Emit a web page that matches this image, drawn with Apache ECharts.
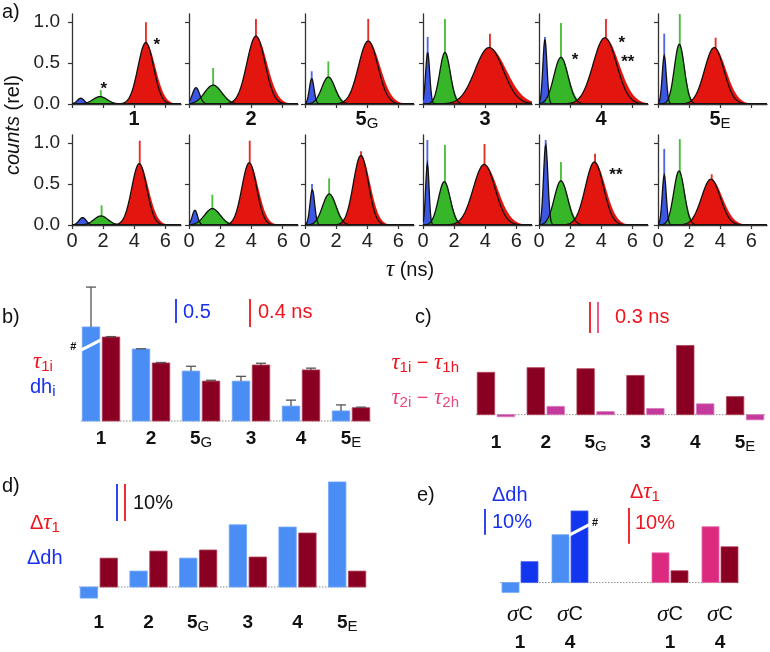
<!DOCTYPE html>
<html><head><meta charset="utf-8">
<script src="https://cdn.jsdelivr.net/npm/echarts@6/dist/echarts.min.js"></script>
<style>html,body{margin:0;padding:0;background:#fff}#c{width:770px;height:652px}</style>
</head><body><div id="c"></div>
<script>
// ===== Panel a: lifetime histograms (fit parameters) =====
const samples = ['1','2','5G','3','4','5E'];
const tauTicks = [0,2,4,6];
const countTicks = [0,0.5,1.0];
// top row: centre (ns), height (rel), width (ns)
const blueCenterTop  = [0.56,0.45,0.43,0.30,0.38,0.40];
const blueHeightTop  = [0.07,0.20,0.31,0.63,0.79,0.59];
const blueSigmaTop   = [0.22,0.23,0.15,0.13,0.13,0.13];
const greenCenterTop = [1.80,1.55,1.50,1.41,1.41,1.37];
const greenHeightTop = [0.09,0.23,0.33,0.63,0.57,0.73];
const greenSigmaTop  = [0.45,0.55,0.42,0.34,0.45,0.32];
const redCenterTop   = [4.74,4.30,4.06,4.25,4.23,3.61];
const redHeightTop   = [0.75,0.83,0.77,0.69,0.81,0.69];
const redSigmaTop    = [0.50,0.58,0.62,0.90,0.75,0.62];
// bottom row
const blueCenterBot  = [0.68,0.38,0.47,0.28,0.43,0.40];
const blueHeightBot  = [0.09,0.18,0.43,0.75,0.98,0.61];
const blueSigmaBot   = [0.23,0.17,0.15,0.11,0.14,0.13];
const greenCenterBot = [1.86,1.50,1.56,1.37,1.41,1.35];
const greenHeightBot = [0.11,0.20,0.38,0.53,0.54,0.66];
const greenSigmaBot  = [0.45,0.50,0.43,0.38,0.43,0.34];
const redCenterBot   = [4.32,3.87,3.59,3.93,3.56,3.40];
const redHeightBot   = [0.75,0.76,0.85,0.74,0.77,0.56];
const redSigmaBot    = [0.48,0.47,0.48,0.70,0.58,0.60];
// single-bin spikes [tau, height] for blue, green, red
const spikesTop = [
  [null,[1.85,0.17],[4.75,1.00]],
  [null,[1.55,0.44],[4.30,1.04]],
  [[0.43,0.40],[1.50,0.52],[4.06,1.04]],
  [[0.30,0.82],[1.41,1.04],[4.30,0.86]],
  [[0.38,0.82],[1.41,0.99],[4.30,1.04]],
  [[0.40,0.86],[1.40,1.10],[3.70,0.81]]
];
const spikesBot = [
  [null,[1.90,0.24],[4.35,1.03]],
  [null,[1.50,0.37],[3.90,1.03]],
  [[0.45,0.50],[1.55,0.57],[3.60,0.90]],
  [[0.28,1.04],[1.41,0.98],[3.95,0.99]],
  [[0.43,1.04],[1.41,0.77],[3.60,0.87]],
  [[0.40,0.93],[1.40,1.05],[3.45,0.62]]
];
// asterisk annotations [panel, tau, counts, text]
const marks = [[0,2.05,0.18,'*'],[0,5.45,0.72,'*'],[4,2.31,0.54,'*'],[4,5.32,0.74,'*'],[4,5.70,0.51,'**'],[10,4.94,0.61,'**']];

// ===== Panel b =====
const barCats = ['1','2','5G','3','4','5E'];
const dhI      = [1.96,1.50,1.04,0.83,0.31,0.21];
const dhIErr   = [0.83,0.005,0.10,0.10,0.125,0.125];
const tau1I    = [1.20,0.83,0.57,0.80,0.73,0.19];
const tau1IErr = [0.006,0.006,0.012,0.025,0.025,0.008];
// ===== Panel c =====
const dTau1 = [0.41,0.455,0.445,0.38,0.67,0.175];
const dTau2 = [-0.02,0.08,0.03,0.06,0.105,-0.05];
// ===== Panel d (%) =====
const relDh   = [-3.0,4.3,7.8,16.8,16.2,28.4];
const relTau1 = [7.8,9.7,10.0,8.1,14.6,4.3];
// ===== Panel e (%) =====
const eCats = ['1','4','','1','4'];
const eDhLight = [-3.8,18.5];
const eDhDark  = [8.1,27.7];
const eTauPink = [8.3,15.6];
const eTauDark = [3.3,10.0];
// scale bars
const scaleB = [0.5,0.4], scaleC = 0.3, scaleD = 10, scaleE = [10,10];

// ===== drawing =====
const FONT = '"Liberation Sans", Arial, sans-serif';
const SERIF = '"Liberation Serif", "DejaVu Serif", serif';
const COMP = ['#3d57e4','#37b629','#e3160f'];
const TAIL = [1.0,1.1,1.22];
const COL = {lblue:'#4a8ef5', dred:'#8a0022', pinkC:'#c4399c', pinkE:'#dc2a80', dblue:'#1236ef',
  tblue:'#1a30f0', tred:'#f0141e', tpink:'#e9487f', axis:'#333'};
const histLefts = [72,189,305,423,539,658], histTops = [14,135], HW = 109, HH = 90;
const grid=[], xAxis=[], yAxis=[], series=[], graphic=[];

function fillRender(params, api){
  const c=api.value(0), h=api.value(1), s=api.value(2), k=api.value(3);
  const pts=[api.coord([0,0])];
  for(let i=0;i<=175;i++){const x=i*0.04; const ss=x>c?s*TAIL[k]:s; pts.push(api.coord([x,h*Math.exp(-(x-c)*(x-c)/(2*ss*ss))]));}
  pts.push(api.coord([7,0]));
  return {type:'polygon', shape:{points:pts}, style:{fill:COMP[k], opacity:1, blend:'multiply'}};
}
function lineRender(params, api){
  const c=api.value(0), h=api.value(1), s=api.value(2);
  const pts=[];
  for(let i=0;i<=175;i++){const x=i*0.04; pts.push(api.coord([x,h*Math.exp(-(x-c)*(x-c)/(2*s*s))]));}
  return {type:'polyline', shape:{points:pts}, style:{stroke:'#111', lineWidth:1.3, fill:null}};
}
function spikeRender(params, api){
  const x=api.value(0), h=api.value(1), k=api.value(2);
  const a=api.coord([x-0.06,h]), b=api.coord([x+0.06,0]);
  return {type:'rect', shape:{x:a[0], y:a[1], width:Math.max(1.8,b[0]-a[0]), height:b[1]-a[1]}, style:{fill:COMP[k], opacity:0.9}};
}
function markRender(params, api){
  const p=api.coord([api.value(0),api.value(1)]);
  return {type:'text', style:{text:api.value(2), x:p[0], y:p[1], fill:'#111', font:'bold 17px '+FONT, align:'center', verticalAlign:'middle'}};
}

for(let r=0;r<2;r++){
  const P = r===0 ? [blueCenterTop,blueHeightTop,blueSigmaTop,greenCenterTop,greenHeightTop,greenSigmaTop,redCenterTop,redHeightTop,redSigmaTop,spikesTop]
                  : [blueCenterBot,blueHeightBot,blueSigmaBot,greenCenterBot,greenHeightBot,greenSigmaBot,redCenterBot,redHeightBot,redSigmaBot,spikesBot];
  for(let c=0;c<6;c++){
    const idx=r*6+c;
    grid.push({left:histLefts[c], top:histTops[r], width:HW, height:HH});
    xAxis.push({type:'value', gridIndex:idx, min:0, max:7, splitLine:{show:false},
      axisLine:{show:true, lineStyle:{color:COL.axis, width:1.3}},
      axisTick:{show:true, length:4, customValues:tauTicks, lineStyle:{color:COL.axis, width:1.2}},
      axisLabel:{show:r===1, customValues:tauTicks, fontSize:20, color:'#222', fontFamily:FONT, margin:6}});
    yAxis.push({type:'value', gridIndex:idx, min:0, max:1.1, splitLine:{show:false},
      axisLine:{show:true, lineStyle:{color:COL.axis, width:1.3}},
      axisTick:{show:true, length:4, customValues:countTicks, lineStyle:{color:COL.axis, width:1.2}},
      axisLabel:{show:c===0, customValues:countTicks, formatter:v=>v.toFixed(1), fontSize:19, color:'#222', fontFamily:FONT, margin:12}});
    const fits=[[P[0][c],P[1][c],P[2][c],0],[P[3][c],P[4][c],P[5][c],1],[P[6][c],P[7][c],P[8][c],2]];
    series.push({type:'custom', xAxisIndex:idx, yAxisIndex:idx, data:fits, renderItem:fillRender, clip:true, z:2, silent:true});
    const sp=[]; P[9][c].forEach((s,k)=>{ if(s) sp.push([s[0],s[1],k]); });
    series.push({type:'custom', xAxisIndex:idx, yAxisIndex:idx, data:sp, renderItem:spikeRender, clip:true, z:3, silent:true});
    series.push({type:'custom', xAxisIndex:idx, yAxisIndex:idx, data:fits, renderItem:lineRender, clip:true, z:4, silent:true});
    const mk=marks.filter(m=>m[0]===idx).map(m=>[m[1],m[2],m[3]]);
    if(mk.length) series.push({type:'custom', xAxisIndex:idx, yAxisIndex:idx, data:mk, renderItem:markRender, clip:false, z:5, silent:true});
  }
}

// ---- bar panels ----
const catRich = {
  b:{fontFamily:FONT, fontWeight:'bold', fontSize:19, color:'#111', lineHeight:22, verticalAlign:'middle'},
  s:{fontFamily:FONT, fontSize:15, color:'#111', lineHeight:13, verticalAlign:'bottom'}
};
function catFmt(v){ return v.length>1 ? '{b|'+v[0]+'}{s|'+v.slice(1)+'}' : '{b|'+v+'}'; }
function catAxis(gi, data, margin, fmt, rich){
  return {type:'category', gridIndex:gi, data:data, axisLine:{show:false}, axisTick:{show:false}, splitLine:{show:false},
    axisLabel:{interval:0, margin:margin, formatter:fmt||catFmt, rich:rich||catRich}};
}
function hiddenY(gi,min,max){ return {type:'value', gridIndex:gi, min:min, max:max, show:false, splitLine:{show:false}}; }
function barRender(color, stroke, off, wf, opt){
  opt=opt||{};
  return function(params, api){
    const i=api.value(0), v=api.value(1), e=api.value(2);
    const base=api.coord([i,0]), top=api.coord([i,v]);
    const bw=api.size([1,0])[0];
    const w=wf*bw, x=base[0]+off*bw-w/2;
    const y=Math.min(base[1],top[1]), h=Math.abs(base[1]-top[1]);
    const ch=[{type:'rect', shape:{x:x,y:y,width:w,height:h}, style:{fill:color, stroke:stroke, lineWidth:0.8}}];
    if(e>0){
      const et=api.coord([i,v+e]), cx=x+w/2;
      ch.push({type:'line', shape:{x1:cx,y1:top[1],x2:cx,y2:et[1]}, style:{stroke:'#555', lineWidth:1.3}});
      ch.push({type:'line', shape:{x1:cx-5,y1:et[1],x2:cx+5,y2:et[1]}, style:{stroke:'#555', lineWidth:1.3}});
    }
    if(opt.breakIdx===params.dataIndex){
      const yc=api.coord([i,opt.breakAt])[1];
      ch.push({type:'polygon', shape:{points:[[x-2,yc+6],[x+w+2,yc-5],[x+w+2,yc-1.5],[x-2,yc+9.5]]}, style:{fill:'#fff'}});
      const hx = opt.hashSide<0 ? x-9 : x+w+7, hy = opt.hashSide<0 ? yc+4 : yc-5;
      ch.push({type:'text', style:{text:'#', x:hx, y:hy, font:'bold 11px '+FONT, fill:'#111', align:'center', verticalAlign:'middle'}});
    }
    return {type:'group', children:ch};
  };
}
function baseRender(first,last){
  return function(params, api){
    const a=api.coord([first,0]), b=api.coord([last,0]), bw=api.size([1,0])[0];
    return {type:'line', shape:{x1:a[0]-0.4*bw, y1:a[1], x2:b[0]+0.4*bw, y2:b[1]}, style:{stroke:'#8a8a8a', lineWidth:1, lineDash:[1.5,1.5]}};
  };
}
const idxData = (vals, errs, slots) => vals.map((v,i)=>[slots?slots[i]:i, v, errs?errs[i]:0]);

// b: grid 12, yAxis 12 (dh), 13 (tau)
grid.push({left:76, top:281, width:300, height:140});
xAxis.push(catAxis(12, barCats, 7));
yAxis.push(hiddenY(12,0,140/48), hiddenY(12,0,2.0));
series.push({type:'custom', xAxisIndex:12, yAxisIndex:12, data:[[0,0]], renderItem:baseRender(0,5), z:1, silent:true});
series.push({type:'custom', xAxisIndex:12, yAxisIndex:12, data:idxData(dhI,dhIErr), renderItem:barRender(COL.lblue,'#6ea6f7',-0.2,0.35,{breakIdx:0, breakAt:1.63, hashSide:-1}), z:3, silent:true});
series.push({type:'custom', xAxisIndex:12, yAxisIndex:13, data:idxData(tau1I,tau1IErr), renderItem:barRender(COL.dred,'#b0405a',0.2,0.35), z:3, silent:true});

// c: grid 13, yAxis 14
grid.push({left:471, top:315, width:300, height:110});
xAxis.push(catAxis(13, barCats, 7));
yAxis.push(hiddenY(13,-0.1,0.9648));
series.push({type:'custom', xAxisIndex:13, yAxisIndex:14, data:[[0,0]], renderItem:baseRender(0,5), z:1, silent:true});
series.push({type:'custom', xAxisIndex:13, yAxisIndex:14, data:idxData(dTau1), renderItem:barRender(COL.dred,'#b0405a',-0.2,0.35), z:3, silent:true});
series.push({type:'custom', xAxisIndex:13, yAxisIndex:14, data:idxData(dTau2), renderItem:barRender(COL.pinkC,'#d877bb',0.2,0.35), z:3, silent:true});

// d: grid 14, yAxis 15
grid.push({left:74, top:477, width:298, height:123});
xAxis.push(catAxis(14, barCats, 12));
yAxis.push(hiddenY(14,-3.514,29.73));
series.push({type:'custom', xAxisIndex:14, yAxisIndex:15, data:[[0,0]], renderItem:baseRender(0,5), z:1, silent:true});
series.push({type:'custom', xAxisIndex:14, yAxisIndex:15, data:idxData(relDh), renderItem:barRender(COL.lblue,'#6ea6f7',-0.2,0.35), z:3, silent:true});
series.push({type:'custom', xAxisIndex:14, yAxisIndex:15, data:idxData(relTau1), renderItem:barRender(COL.dred,'#b0405a',0.2,0.35), z:3, silent:true});

// e: grid 15, yAxis 16 (dh), 17 (tau)
const eRich = {
  s:{fontFamily:SERIF, fontStyle:'italic', fontSize:23, color:'#111', lineHeight:28},
  c:{fontFamily:FONT, fontSize:20, color:'#111', lineHeight:28},
  n:{fontFamily:FONT, fontWeight:'bold', fontSize:19, color:'#111', lineHeight:28}
};
grid.push({left:495, top:503, width:250, height:92});
xAxis.push(catAxis(15, eCats, 6, v=> v==='' ? '' : '{s|σ}{c|C}\n{n|'+v+'}', eRich));
yAxis.push(hiddenY(15,-12/2.6,80/2.6), hiddenY(15,-12/3.6,80/3.6));
series.push({type:'custom', xAxisIndex:15, yAxisIndex:16, data:[[0,0]], renderItem:baseRender(0,4), z:1, silent:true});
series.push({type:'custom', xAxisIndex:15, yAxisIndex:16, data:idxData(eDhLight,null,[0,1]), renderItem:barRender(COL.lblue,'#6ea6f7',-0.19,0.34), z:3, silent:true});
series.push({type:'custom', xAxisIndex:15, yAxisIndex:16, data:idxData(eDhDark,null,[0,1]), renderItem:barRender(COL.dblue,'#4a63f3',0.19,0.34,{breakIdx:1, breakAt:21.3, hashSide:1}), z:3, silent:true});
series.push({type:'custom', xAxisIndex:15, yAxisIndex:17, data:idxData(eTauPink,null,[3,4]), renderItem:barRender(COL.pinkE,'#e86aa6',-0.19,0.34), z:3, silent:true});
series.push({type:'custom', xAxisIndex:15, yAxisIndex:17, data:idxData(eTauDark,null,[3,4]), renderItem:barRender(COL.dred,'#b0405a',0.19,0.34), z:3, silent:true});

// ---- texts ----
function txt(x,y,text,opt){
  opt=opt||{};
  return {type:'text', x:x, y:y, rotation:opt.rot||0, z:10, silent:true,
    style:{text:text, font:(opt.weight||'normal')+' '+(opt.size||20)+'px '+FONT, fill:opt.color||'#111',
      align:opt.align||'left', verticalAlign:'middle', rich:opt.rich}};
}
function richSet(color){
  return {
    m:{fontFamily:FONT, fontSize:20, fill:color, lineHeight:24, verticalAlign:'middle'},
    t:{fontFamily:SERIF, fontStyle:'italic', fontSize:23, fill:color, lineHeight:24, verticalAlign:'middle'},
    s:{fontFamily:FONT, fontSize:15, fill:color, lineHeight:12, verticalAlign:'bottom'},
    i:{fontFamily:FONT, fontStyle:'italic', fontSize:20, fill:color, lineHeight:24, verticalAlign:'middle'},
    b:{fontFamily:FONT, fontWeight:'bold', fontSize:20, fill:color, lineHeight:24, verticalAlign:'middle'}
  };
}
graphic.push(txt(2,12,'a)'));
graphic.push(txt(13,125,'{i|counts}{m| (rel)}',{rot:Math.PI/2, align:'center', rich:richSet('#111')}));
samples.forEach((s,c)=>graphic.push(txt(histLefts[c]+62,119, s.length>1?'{b|'+s[0]+'}{s|'+s.slice(1)+'}':'{b|'+s+'}',{align:'center', rich:richSet('#111')})));
graphic.push(txt(410,270,'{t|τ}{m| (ns)}',{align:'center', rich:richSet('#111')}));
graphic.push(txt(2,317,'b)'));
graphic.push(txt(33,362,'{t|τ}{s|1i}',{rich:richSet(COL.tred)}));
graphic.push(txt(30,387,'{m|dh}{s|i}',{rich:richSet(COL.tblue)}));
graphic.push(txt(183,312,'0.5',{color:COL.tblue}));
graphic.push(txt(258,312,'0.4 ns',{color:COL.tred}));
graphic.push(txt(415,317,'c)'));
graphic.push(txt(459,363,'{t|τ}{s|1i}{m| − }{t|τ}{s|1h}',{align:'right', rich:richSet(COL.tred)}));
graphic.push(txt(459,398,'{t|τ}{s|2i}{m| − }{t|τ}{s|2h}',{align:'right', rich:richSet(COL.tpink)}));
graphic.push(txt(615,317,'0.3 ns',{color:COL.tred}));
graphic.push(txt(2,486,'d)'));
graphic.push(txt(30,523,'{m|Δ}{t|τ}{s|1}',{rich:richSet(COL.tred)}));
graphic.push(txt(27,558,'Δdh',{color:COL.tblue}));
graphic.push(txt(133,503,'10%'));
graphic.push(txt(417,495,'e)'));
graphic.push(txt(492,495,'Δdh',{color:COL.tblue}));
graphic.push(txt(492,522,'10%',{color:COL.tblue}));
graphic.push(txt(630,492,'{m|Δ}{t|τ}{s|1}',{rich:richSet(COL.tred)}));
graphic.push(txt(635,523,'10%',{color:COL.tred}));

const chart = echarts.init(document.getElementById('c'), null, {renderer:'canvas'});
chart.setOption({animation:false, grid:grid, xAxis:xAxis, yAxis:yAxis, series:series, graphic:graphic});

// scale bars: lengths from the library's own axes
function len(yi, v){ return chart.convertToPixel({yAxisIndex:yi}, 0) - chart.convertToPixel({yAxisIndex:yi}, v); }
function vbar(x, top, l, color){ return {type:'line', z:10, silent:true, shape:{x1:x,y1:top,x2:x,y2:top+l}, style:{stroke:color, lineWidth:1.8}}; }
const bars = [
  vbar(176,299,len(12,scaleB[0]),COL.tblue),
  vbar(250,299,len(13,scaleB[1]),COL.tred),
  vbar(590,302,len(14,scaleC),COL.tred),
  vbar(598,302,len(14,scaleC),COL.tpink),
  vbar(117,484,len(15,scaleD),COL.tblue),
  vbar(125,484,len(15,scaleD),COL.tred),
  vbar(485,509,len(16,scaleE[0]),COL.tblue),
  vbar(629,508,len(17,scaleE[1]),COL.tred)
];
chart.setOption({graphic: graphic.concat(bars)});
</script></body></html>
